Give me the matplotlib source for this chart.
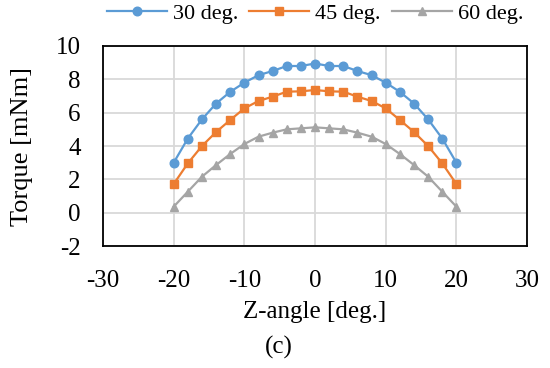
import matplotlib.pyplot as plt

plt.rcParams['font.family'] = ['Liberation Serif', 'Times New Roman', 'DejaVu Serif']
plt.rcParams['axes.unicode_minus'] = False

# Z-angle [deg.]
z_angle = [-20, -18, -16, -14, -12, -10, -8, -6, -4, -2, 0,
           2, 4, 6, 8, 10, 12, 14, 16, 18, 20]

# torque [mNm] for each tilt
torque_30 = [3.0, 4.45, 5.6, 6.55, 7.25, 7.8, 8.25, 8.5, 8.8, 8.8, 8.95,
             8.8, 8.8, 8.5, 8.25, 7.8, 7.25, 6.55, 5.6, 4.45, 3.0]
torque_45 = [1.72, 2.96, 4.0, 4.84, 5.56, 6.26, 6.7, 6.96, 7.26, 7.28, 7.36,
             7.28, 7.26, 6.96, 6.7, 6.26, 5.56, 4.84, 4.0, 2.96, 1.72]
torque_60 = [0.36, 1.26, 2.16, 2.86, 3.52, 4.12, 4.56, 4.8, 5.0, 5.06, 5.12,
             5.06, 5.0, 4.8, 4.56, 4.12, 3.52, 2.86, 2.16, 1.26, 0.36]

fig = plt.figure(figsize=(5.5, 3.68), dpi=100)
ax = fig.add_axes([0.1873, 0.3315, 0.771, 0.5435])

ax.plot(z_angle, torque_30, color='#5B9BD5', lw=1.6, marker='o', ms=6.2, label='30 deg.')
ax.plot(z_angle, torque_45, color='#ED7D31', lw=1.6, marker='s', ms=6, label='45 deg.')
ax.plot(z_angle, torque_60, color='#A5A5A5', lw=1.6, marker='^', ms=6.2, label='60 deg.')

ax.set_xlim(-30, 30)
ax.set_ylim(-2, 10)
ax.set_xticks(range(-30, 31, 10))
ax.set_yticks(range(-2, 11, 2))
ax.grid(True, color='#D9D9D9', lw=1.3)
ax.set_axisbelow(True)
ax.tick_params(length=0, labelsize=18)
ax.tick_params(axis='x', pad=17)
ax.tick_params(axis='y', pad=16)
for s in ax.spines.values():
    s.set_color('black')
    s.set_linewidth(1.3)

# axis titles placed by pixel centre of the reference
fig.text(315 / 550, 1 - 312 / 368, 'Z-angle [deg.]', ha='center', va='center', fontsize=18)
fig.text(22 / 550, 1 - 146 / 368, 'Torque [mNm]', ha='center', va='center',
         rotation=90, fontsize=19)

fig.legend(loc='center', bbox_to_anchor=(315 / 550, 1 - 14 / 368), ncol=3, frameon=False,
           fontsize=16, handlelength=2.7, columnspacing=0.5, handletextpad=0.27)

fig.text(279 / 550, 1 - 347 / 368, '(c)', ha='center', va='center', fontsize=18)

fig.savefig('out.png', dpi=100)
